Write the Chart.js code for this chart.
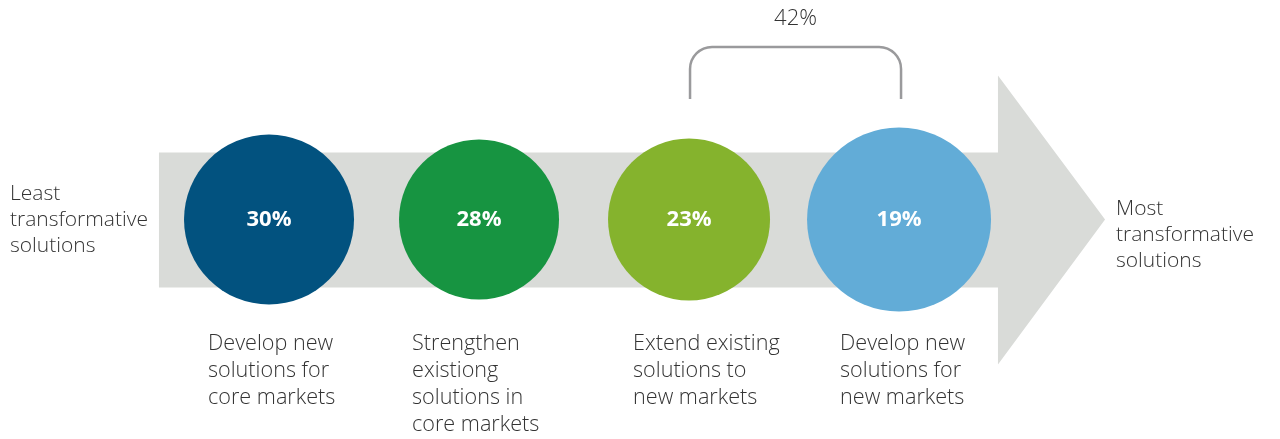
<!DOCTYPE html>
<html>
<head>
<meta charset="utf-8">
<script src="https://cdn.jsdelivr.net/npm/chart.js@4/dist/chart.umd.min.js"></script>
<style>
  html, body { margin: 0; padding: 0; background: #fff; }
  #wrap { width: 1280px; height: 439px; position: relative; }
</style>
</head>
<body>
<div id="wrap"><canvas id="stagesChart"></canvas></div>
<script>
// Share of respondents per strategy, from least to most transformative
const categories = [
  ['Develop new', 'solutions for', 'core markets'],
  ['Strengthen', 'existiong', 'solutions in', 'core markets'],
  ['Extend existing', 'solutions to', 'new markets'],
  ['Develop new', 'solutions for', 'new markets']
];
const shares = [30, 28, 23, 19];
const colors = ['#02527f', '#179441', '#85b32d', '#62acd7'];
const radii = [85, 80, 81, 92];
// the two "new markets" stages are grouped under one bracket
const bracketGroup = [2, 3];
const leftLabel = ['Least', 'transformative', 'solutions'];
const rightLabel = ['Most', 'transformative', 'solutions'];

const FONT = '"Open Sans", "Noto Sans", sans-serif';
const TEXT = '#333333';
// caption left edge relative to its circle centre
const captionShift = [-61, -67, -56, -59];

// Grey arrow behind the circles
const arrowPlugin = {
  id: 'arrow',
  beforeDatasetsDraw(chart) {
    const { ctx, scales: { x, y } } = chart;
    const cy = y.getPixelForValue(0);
    const left = x.getPixelForValue(-0.524);
    const base = x.getPixelForValue(3.471);
    const tip = x.getPixelForValue(3.981);
    ctx.save();
    ctx.fillStyle = '#d9dbd8';
    ctx.beginPath();
    ctx.moveTo(left, cy - 67);
    ctx.lineTo(base, cy - 67);
    ctx.lineTo(base, cy - 144);
    ctx.lineTo(tip, cy);
    ctx.lineTo(base, cy + 145);
    ctx.lineTo(base, cy + 68);
    ctx.lineTo(left, cy + 68);
    ctx.closePath();
    ctx.fill();
    ctx.restore();
  }
};

// Percent inside circles, captions below, end labels and the bracket
const labelsPlugin = {
  id: 'labels',
  afterDatasetsDraw(chart) {
    const { ctx, scales: { x, y } } = chart;
    const cy = y.getPixelForValue(0);
    ctx.save();
    ctx.textBaseline = 'middle';

    ctx.fillStyle = '#ffffff';
    ctx.font = 'bold 22px ' + FONT;
    ctx.textAlign = 'center';
    shares.forEach((v, i) => {
      ctx.fillText(v + '%', x.getPixelForValue(i), cy);
    });

    ctx.fillStyle = TEXT;
    ctx.textAlign = 'left';
    ctx.font = '300 21.6px ' + FONT;
    categories.forEach((lines, i) => {
      const lx = x.getPixelForValue(i) + captionShift[i];
      lines.forEach((t, k) => ctx.fillText(t, lx, 344 + k * 27));
    });

    ctx.font = '300 21px ' + FONT;
    leftLabel.forEach((t, k) => ctx.fillText(t, 10, 194 + k * 26));
    rightLabel.forEach((t, k) => ctx.fillText(t, 1116, 209 + k * 26));

    // bracket
    const bx1 = x.getPixelForValue(bracketGroup[0]) + 1;
    const bx2 = x.getPixelForValue(bracketGroup[1]) + 2;
    const top = 47, bottom = 99, r = 22;
    ctx.strokeStyle = '#9a9a9c';
    ctx.lineWidth = 2.5;
    ctx.beginPath();
    ctx.moveTo(bx1, bottom);
    ctx.lineTo(bx1, top + r);
    ctx.arcTo(bx1, top, bx1 + r, top, r);
    ctx.lineTo(bx2 - r, top);
    ctx.arcTo(bx2, top, bx2, top + r, r);
    ctx.lineTo(bx2, bottom);
    ctx.stroke();

    const sum = bracketGroup.reduce((s, i) => s + shares[i], 0);
    ctx.textAlign = 'center';
    ctx.font = '300 22px ' + FONT;
    ctx.fillText(sum + '%', (bx1 + bx2) / 2, 19);
    ctx.restore();
  }
};

new Chart(document.getElementById('stagesChart'), {
  type: 'scatter',
  data: {
    datasets: [{
      data: shares.map((v, i) => ({ x: i, y: 0 })),
      backgroundColor: colors,
      borderWidth: 0,
      pointRadius: radii,
      pointHoverRadius: radii,
      clip: false
    }]
  },
  options: {
    responsive: true,
    maintainAspectRatio: false,
    animation: false,
    events: [],
    layout: { padding: 0, autoPadding: false },
    plugins: { legend: { display: false }, tooltip: { enabled: false } },
    scales: {
      x: { type: 'linear', min: -1.281, max: 4.814, display: false },
      y: { min: -1, max: 1, display: false }
    }
  },
  plugins: [arrowPlugin, labelsPlugin]
});
</script>
</body>
</html>
